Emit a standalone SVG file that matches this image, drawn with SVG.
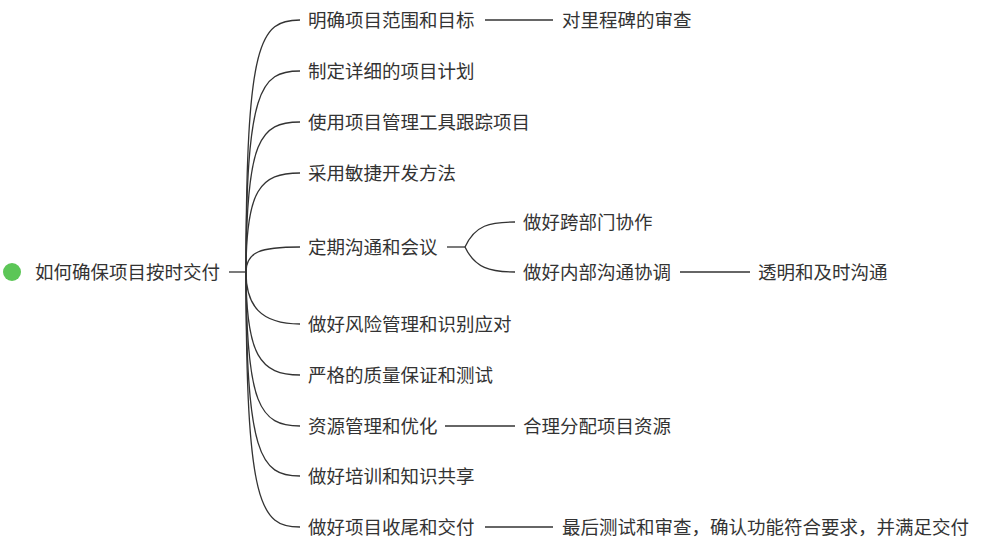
<svg xmlns="http://www.w3.org/2000/svg" width="1000" height="551" viewBox="0 0 1000 551">
<style>
text{font-family:"Noto Sans CJK SC","Noto Sans",sans-serif;font-size:18.5px;fill:#333;dominant-baseline:central}
.c path,.c line{stroke:#333;stroke-width:1.3;fill:none}
</style>
<rect width="1000" height="551" fill="#fff"/>
<g class="c" id="connectors">
<line x1="229" y1="272" x2="246" y2="272" stroke-width="2.5"/>
<path d="M246 272 C246 40 260 20 300 20"/>
<path d="M246 272 C246 90 260 71 300 71"/>
<path d="M246 272 C246 140 260 122 300 122"/>
<path d="M246 272 C246 190 260 173 300 173"/>
<path d="M246 272 C246 252 260 247 300 247"/>
<path d="M246 272 C246 305 260 324 300 324"/>
<path d="M246 272 C246 355 260 375 300 375"/>
<path d="M246 272 C246 405 260 426 300 426"/>
<path d="M246 272 C246 455 260 476 300 476"/>
<path d="M246 272 C246 505 260 527 300 527"/>
<line x1="485" y1="20" x2="553" y2="20"/>
<line x1="447" y1="247" x2="465" y2="247" stroke-width="2.5"/>
<path d="M465 247 C475 225 490 222 515 222"/>
<path d="M465 247 C475 268 490 272 515 272"/>
<line x1="680" y1="272" x2="750" y2="272"/>
<line x1="445" y1="426" x2="515" y2="426"/>
<line x1="485" y1="527" x2="553" y2="527"/>
</g>
<g id="root"><circle cx="12" cy="272" r="9" fill="#5cc657"/><text x="35" y="271">如何确保项目按时交付</text></g>
<g id="n1"><text x="308" y="19">明确项目范围和目标</text></g>
<g id="n1a"><text x="562" y="19">对里程碑的审查</text></g>
<g id="n2"><text x="308" y="70">制定详细的项目计划</text></g>
<g id="n3"><text x="308" y="121">使用项目管理工具跟踪项目</text></g>
<g id="n4"><text x="308" y="172">采用敏捷开发方法</text></g>
<g id="n5"><text x="308" y="246">定期沟通和会议</text></g>
<g id="n5a"><text x="523" y="221">做好跨部门协作</text></g>
<g id="n5b"><text x="523" y="271">做好内部沟通协调</text></g>
<g id="n5b1"><text x="758" y="271">透明和及时沟通</text></g>
<g id="n6"><text x="308" y="323">做好风险管理和识别应对</text></g>
<g id="n7"><text x="308" y="374">严格的质量保证和测试</text></g>
<g id="n8"><text x="308" y="425">资源管理和优化</text></g>
<g id="n8a"><text x="523" y="425">合理分配项目资源</text></g>
<g id="n9"><text x="308" y="475">做好培训和知识共享</text></g>
<g id="n10"><text x="308" y="526">做好项目收尾和交付</text></g>
<g id="n10a"><text x="562" y="526">最后测试和审查，确认功能符合要求，并满足交付</text></g>
</svg>
